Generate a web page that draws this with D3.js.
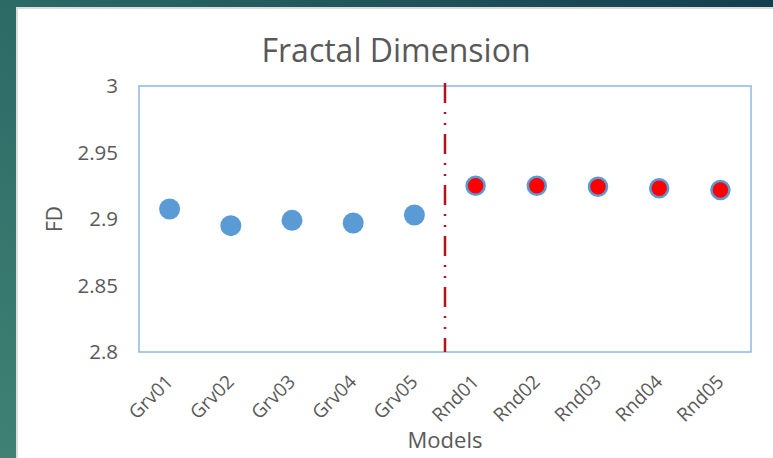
<!DOCTYPE html>
<html>
<head>
<meta charset="utf-8">
<script src="https://cdn.jsdelivr.net/npm/d3@7"></script>
<style>
  html, body { margin: 0; padding: 0; }
  body { width: 773px; height: 458px; overflow: hidden; }
  svg { display: block; }
</style>
</head>
<body>
<svg id="chart" width="773" height="458"></svg>
<script>
// Fractal dimension per model
const models = ["Grv01", "Grv02", "Grv03", "Grv04", "Grv05",
                "Rnd01", "Rnd02", "Rnd03", "Rnd04", "Rnd05"];
const fdValues = [2.9075, 2.895, 2.899, 2.897, 2.903,
                  2.925, 2.925, 2.9243, 2.9231, 2.9218];
const groups = ["grv", "grv", "grv", "grv", "grv",
                "rnd", "rnd", "rnd", "rnd", "rnd"];
const yTicks = [2.8, 2.85, 2.9, 2.95, 3];
const yTickLabels = ["2.8", "2.85", "2.9", "2.95", "3"];

const svg = d3.select("#chart");
const W = 773, H = 458;
const font = "'Open Sans', Lato, sans-serif";
const textColor = "#595959";

// slide-style backdrop
const defs = svg.append("defs");
const grad = defs.append("linearGradient")
  .attr("id", "bg").attr("x1", "0").attr("y1", "1").attr("x2", "1").attr("y2", "0");
grad.append("stop").attr("offset", "0").attr("stop-color", "#3f8274");
grad.append("stop").attr("offset", "0.5").attr("stop-color", "#2c6a66");
grad.append("stop").attr("offset", "1").attr("stop-color", "#143e4e");
svg.append("rect").attr("width", W).attr("height", H).attr("fill", "url(#bg)");

// white chart panel
svg.append("rect").attr("x", 16).attr("y", 7).attr("width", W - 16).attr("height", H - 7)
  .attr("fill", "#dcdcdc");
svg.append("rect").attr("x", 18).attr("y", 9).attr("width", W - 18).attr("height", H - 9)
  .attr("fill", "#ffffff");

const plot = { left: 139, top: 86, right: 751, bottom: 352 };

const x = d3.scalePoint().domain(models)
  .range([plot.left, plot.right]).padding(0.5);
const y = d3.scaleLinear().domain([2.8, 3]).range([plot.bottom, plot.top]);

// plot area frame
svg.append("rect")
  .attr("x", plot.left).attr("y", plot.top)
  .attr("width", plot.right - plot.left).attr("height", plot.bottom - plot.top)
  .attr("fill", "none").attr("stroke", "#8db8e2").attr("stroke-width", 1.5);

// y axis labels
const yAxis = d3.axisLeft(y).tickValues(yTicks)
  .tickFormat((d, i) => yTickLabels[i]).tickSize(0).tickPadding(21);
const yg = svg.append("g").attr("transform", `translate(${plot.left},0)`).call(yAxis);
yg.select(".domain").remove();
yg.selectAll("text").attr("font-family", font).attr("font-size", 20.5)
  .attr("fill", textColor);

// x axis labels, rotated
const xAxis = d3.axisBottom(x).tickSize(0).tickPadding(0);
const xg = svg.append("g").attr("transform", `translate(0,${plot.bottom})`).call(xAxis);
xg.select(".domain").remove();
xg.selectAll("text")
  .attr("font-family", font).attr("font-size", 19).attr("fill", textColor)
  .attr("text-anchor", "end")
  .attr("dy", null).attr("y", 0)
  .attr("transform", "translate(4,31) rotate(-45)");

// group divider between Grv and Rnd models
const divX = (x("Grv05") + x("Rnd01")) / 2;
svg.append("line")
  .attr("x1", divX).attr("x2", divX)
  .attr("y1", plot.top - 3).attr("y2", plot.bottom)
  .attr("stroke", "#b5121b").attr("stroke-width", 2.5)
  .attr("stroke-dasharray", "20 9 2 9 2 9");

// markers
svg.append("g").selectAll("circle")
  .data(models.map((m, i) => ({ m, v: fdValues[i], g: groups[i] })))
  .join("circle")
  .attr("cx", d => x(d.m))
  .attr("cy", d => y(d.v))
  .attr("r", d => d.g === "grv" ? 10.5 : 9)
  .attr("fill", d => d.g === "grv" ? "#5b9bd5" : "#ff0000")
  .attr("stroke", d => d.g === "grv" ? "none" : "#5b9bd5")
  .attr("stroke-width", d => d.g === "grv" ? 0 : 2.5);

// title
svg.append("text")
  .attr("x", 396).attr("y", 62)
  .attr("text-anchor", "middle")
  .attr("font-family", font).attr("font-size", 32).attr("fill", textColor)
  .text("Fractal Dimension");

// axis titles
svg.append("text")
  .attr("x", 445).attr("y", 448)
  .attr("text-anchor", "middle")
  .attr("font-family", font).attr("font-size", 22).attr("fill", textColor)
  .text("Models");

svg.append("text")
  .attr("transform", "translate(62,219) rotate(-90)")
  .attr("text-anchor", "middle")
  .attr("font-family", font).attr("font-size", 21).attr("fill", textColor)
  .text("FD");
</script>
</body>
</html>
